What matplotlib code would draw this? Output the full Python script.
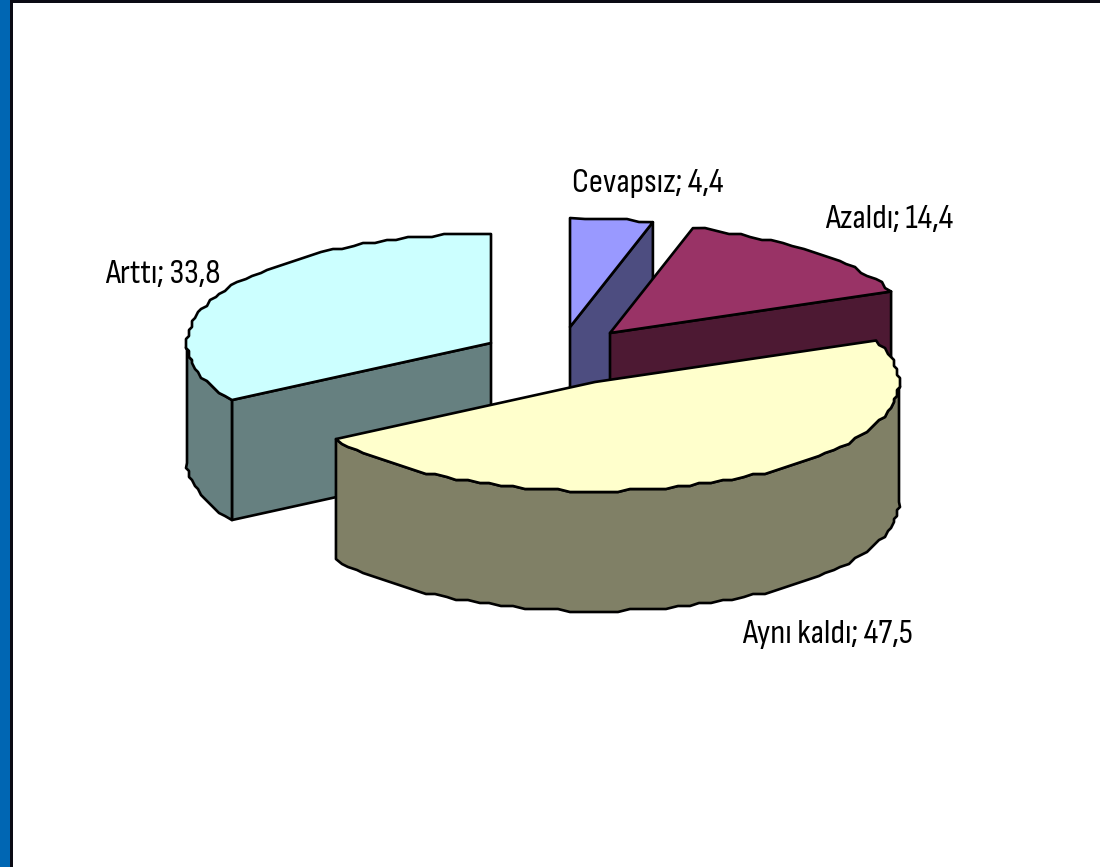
import numpy as np
import matplotlib
matplotlib.use("Agg")
import matplotlib.pyplot as plt
from matplotlib import font_manager as fm
from matplotlib.patches import Polygon, Rectangle

categories = ["Cevapsız", "Azaldı", "Aynı kaldı", "Arttı"]
values = [4.4, 14.4, 47.5, 33.8]
top_colors = ["#9999FF", "#993366", "#FFFFCC", "#CCFFFF"]
wall_colors = ["#4D4D80", "#4D1933", "#808066", "#668080"]

# layout (pixels)
apex = {"Cevapsız": (570, 327), "Azaldı": (610, 333), "Aynı kaldı": (595, 382), "Arttı": (491, 343)}
label_pos = {"Cevapsız": (572, 192), "Azaldı": (825, 228), "Aynı kaldı": (742, 643), "Arttı": (105, 283)}
RX, RY, DEPTH = 304, 109, 120
GRID = 3.0
W, H = 1100, 867

names = {f.name for f in fm.fontManager.ttflist}
family = "Sofia Sans Condensed" if "Sofia Sans Condensed" in names else "Liberation Sans"
fs = 25 if family == "Sofia Sans Condensed" else 18

fig = plt.figure(figsize=(W / 100, H / 100), dpi=100, facecolor="white")
ax = fig.add_axes([0, 0, 1, 1])
ax.set_xlim(0, W)
ax.set_ylim(H, 0)
ax.axis("off")

ax.add_patch(Rectangle((0, 0), 10, H, fc="#0066B3", ec="none"))
ax.add_patch(Rectangle((9.5, 0), 3, H, fc="#0A0A14", ec="none"))
ax.add_patch(Rectangle((9.5, 0), W, 3, fc="#0A0A14", ec="none"))


def arc(name, a0, a1, dy=0.0):
    cx, cy = apex[name]
    n = max(2, int(abs(a1 - a0) / 2.2))
    t = np.radians(np.linspace(a0, a1, n))
    x = cx + RX * np.sin(t)
    y = cy - RY * np.cos(t) + dy
    xq = np.round(x / GRID) * GRID
    yq = np.round(y / GRID) * GRID
    xq[0], xq[-1], yq[0], yq[-1] = x[0], x[-1], y[0], y[-1]
    return np.column_stack([xq, yq])


lw = 1.9
style = dict(ec="black", lw=lw, joinstyle="round")
starts = np.cumsum([0] + values[:-1]) / sum(values) * 360
ends = np.cumsum(values) / sum(values) * 360
spans = dict(zip(categories, zip(starts, ends)))
col_top = dict(zip(categories, top_colors))
col_wall = dict(zip(categories, wall_colors))

for name in ["Cevapsız", "Azaldı", "Arttı", "Aynı kaldı"]:
    a0, a1 = spans[name]
    c = np.array(apex[name], float)
    # flat cut walls
    if name in ("Cevapsız", "Azaldı"):
        e = arc(name, a1 - 0.01, a1)[-1]
        pts = [c, e, e + [0, DEPTH], c + [0, DEPTH]]
        ax.add_patch(Polygon(pts, fc=col_wall[name], **style))
    if name == "Arttı":
        e = arc(name, a0, a0 + 0.01)[0]
        pts = [c, e, e + [0, DEPTH], c + [0, DEPTH]]
        ax.add_patch(Polygon(pts, fc=col_wall[name], **style))
    # curved outer wall where it faces the viewer
    lo, hi = max(a0, 90), min(a1, 270)
    if lo < hi:
        up = arc(name, lo, hi)
        down = arc(name, hi, lo, dy=DEPTH)
        ax.add_patch(Polygon(np.vstack([up, down]), fc=col_wall[name], **style))
    # top face
    top = np.vstack([c[None, :], arc(name, a0, a1)])
    ax.add_patch(Polygon(top, fc=col_top[name], **style))

for name, v in zip(categories, values):
    x, y = label_pos[name]
    ax.text(x, y, f"{name}; {str(v).replace('.', ',')}", family=family, fontsize=fs,
            ha="left", va="baseline", color="black")

fig.savefig("out.png", dpi=100, facecolor="white")
